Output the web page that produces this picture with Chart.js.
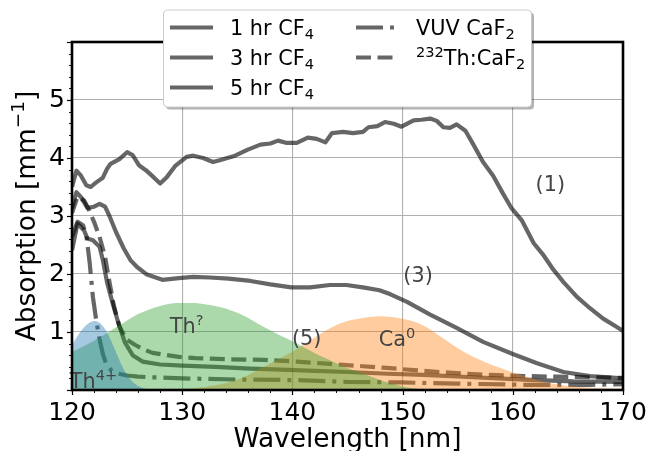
<!DOCTYPE html>
<html>
<head>
<meta charset="utf-8">
<script src="https://cdn.jsdelivr.net/npm/chart.js@4.4.1/dist/chart.umd.min.js"></script>
<style>
  html, body { margin: 0; padding: 0; background: #fff; }
  canvas { display: block; }
</style>
</head>
<body>
<canvas id="absChart" width="664" height="451"></canvas>
<script>
// wavelength [nm] / absorption [mm^-1]
const wl1 = [120.0, 120.4, 120.8, 121.3, 121.7, 122.2, 122.8, 123.2, 123.5, 124.3, 125.0, 125.5, 126.1, 126.7, 127.4, 128.0, 128.6, 129.4, 129.8, 130.4, 131.0, 131.9, 132.8, 133.4, 134.8, 135.9, 137.1, 138.0, 138.7, 139.5, 140.4, 141.4, 142.2, 143.0, 143.6, 144.6, 145.5, 146.4, 146.9, 147.7, 148.4, 149.2, 149.9, 151.0, 151.7, 152.5, 153.1, 153.7, 154.3, 154.9, 155.7, 156.4, 157.3, 158.2, 159.1, 159.9, 160.8, 161.9, 162.8, 163.7, 164.6, 165.8, 167.0, 168.2, 169.4, 170.0];
const abs1 = [3.50, 3.78, 3.70, 3.53, 3.50, 3.58, 3.66, 3.82, 3.90, 3.98, 4.10, 4.05, 3.87, 3.79, 3.67, 3.56, 3.67, 3.87, 3.93, 4.02, 4.04, 4.00, 3.93, 3.96, 4.04, 4.14, 4.23, 4.25, 4.30, 4.26, 4.26, 4.35, 4.33, 4.27, 4.43, 4.45, 4.43, 4.45, 4.53, 4.55, 4.62, 4.59, 4.54, 4.65, 4.66, 4.68, 4.64, 4.53, 4.52, 4.58, 4.47, 4.24, 3.93, 3.70, 3.39, 3.13, 2.93, 2.53, 2.32, 2.07, 1.86, 1.61, 1.41, 1.23, 1.09, 1.02];

const wl3 = [120.0, 120.4, 120.8, 121.4, 122.0, 122.5, 123.0, 123.4, 124.0, 124.7, 125.3, 125.9, 126.8, 128.2, 129.7, 131.0, 132.5, 134.2, 136.2, 138.0, 139.9, 141.6, 143.4, 144.9, 146.4, 147.9, 148.9, 150.4, 152.5, 154.9, 157.3, 160.0, 162.2, 164.6, 167.0, 170.0];
const abs3 = [3.13, 3.41, 3.33, 3.14, 3.16, 3.21, 3.16, 3.00, 2.72, 2.44, 2.24, 2.12, 1.99, 1.90, 1.93, 1.95, 1.94, 1.92, 1.88, 1.82, 1.77, 1.77, 1.81, 1.81, 1.77, 1.72, 1.65, 1.52, 1.30, 1.07, 0.83, 0.62, 0.46, 0.31, 0.24, 0.20];

const wl5 = [120.0, 120.5, 121.1, 121.4, 121.9, 122.5, 122.8, 123.2, 123.7, 124.2, 124.8, 125.5, 126.4, 128.0, 130.0, 133.0, 136.2, 139.0, 142.0, 145.0, 148.6, 151.9, 156.4, 161.0, 165.5, 170.0];
const abs5 = [2.41, 2.87, 2.75, 2.61, 2.58, 2.47, 2.24, 1.84, 1.49, 1.16, 0.82, 0.60, 0.49, 0.44, 0.42, 0.40, 0.37, 0.35, 0.33, 0.31, 0.28, 0.26, 0.22, 0.18, 0.15, 0.14];

const wlVuv = [120.0, 120.5, 121.0, 121.3, 121.6, 121.9, 122.2, 122.5, 122.8, 123.1, 123.6, 124.0, 125.0, 126.0, 127.1, 130.0, 135.2, 140.4, 145.0, 149.8, 154.9, 161.0, 167.0, 170.0];
const absVuv = [2.64, 2.90, 2.84, 2.67, 2.20, 1.60, 1.20, 0.88, 0.62, 0.45, 0.33, 0.29, 0.25, 0.23, 0.22, 0.20, 0.18, 0.17, 0.14, 0.13, 0.11, 0.09, 0.09, 0.10];

const wlTh = [120.0, 120.5, 121.1, 121.5, 122.0, 122.5, 123.0, 123.4, 123.8, 124.3, 124.9, 125.7, 126.5, 127.3, 129.7, 131.2, 134.3, 137.4, 140.4, 143.4, 146.4, 148.6, 151.9, 154.9, 157.9, 161.0, 164.0, 167.0, 170.0];
const absTh = [3.05, 3.33, 3.27, 3.12, 2.90, 2.64, 2.30, 1.86, 1.45, 1.10, 0.88, 0.78, 0.70, 0.64, 0.57, 0.55, 0.53, 0.52, 0.49, 0.45, 0.41, 0.38, 0.33, 0.29, 0.26, 0.24, 0.23, 0.22, 0.21];

// shaded absorption bands
const wlTh4 = [120.0, 120.5, 121.0, 121.5, 122.0, 122.5, 123.0, 123.5, 124.0, 124.5, 125.0, 125.5, 126.0, 126.5, 127.5];
const bandTh4 = [0.77, 0.93, 1.06, 1.15, 1.19, 1.16, 1.05, 0.87, 0.65, 0.43, 0.26, 0.14, 0.07, 0.03, 0.0];

const wlThQ = [120, 121, 122, 123, 124, 125, 126, 127, 128, 129, 130, 131, 132, 133, 134, 135, 136, 137, 138, 139, 140, 141, 142, 143, 144, 145, 146, 147, 148, 149, 150, 151, 152, 153];
const bandThQ = [0.66, 0.75, 0.85, 0.96, 1.08, 1.20, 1.31, 1.39, 1.45, 1.49, 1.50, 1.50, 1.48, 1.45, 1.40, 1.33, 1.24, 1.13, 1.03, 0.93, 0.84, 0.74, 0.64, 0.55, 0.46, 0.38, 0.31, 0.24, 0.17, 0.11, 0.06, 0.03, 0.01, 0.0];

const wlCa = [128, 130, 132, 134, 135, 136, 137, 138, 139, 140, 141, 142, 143, 144, 145, 146, 147, 148, 149, 150, 151, 152, 153, 154, 155, 156, 157, 158, 159, 160, 161, 162, 163, 164, 165, 167, 170];
const bandCa = [0.0, 0.02, 0.05, 0.12, 0.18, 0.26, 0.36, 0.46, 0.56, 0.66, 0.78, 0.90, 1.02, 1.12, 1.19, 1.23, 1.26, 1.27, 1.26, 1.23, 1.18, 1.10, 0.98, 0.85, 0.72, 0.61, 0.52, 0.44, 0.37, 0.30, 0.24, 0.18, 0.13, 0.10, 0.07, 0.04, 0.02];

const xTicks = [120, 130, 140, 150, 160, 170];
const yTicks = [1, 2, 3, 4, 5];

// text labels in the plot: [segments, wavelength, absorption]
const notes = [
    [[['(1)', 0]], 163.4, 3.57],
    [[['(3)', 0]], 151.4, 1.99],
    [[['(5)', 0]], 141.3, 0.90],
    [[['Ca', 0], ['0', 1]], 149.5, 0.89],
    [[['Th', 0], ['?', 1]], 130.4, 1.12],
    [[['Th', 0], ['4+', 1]], 121.95, 0.16]
];

const FONT = '"DejaVu Sans"';
const lineCol = 'rgba(0,0,0,0.6)';
const pts = (xs, ys) => xs.map((x, i) => ({ x: x, y: ys[i] }));

function richText(ctx, segs, x, y, size, align) {
    let total = 0;
    const widths = segs.map(s => {
        ctx.font = (s[1] ? size * 0.7 : size) + 'px ' + FONT;
        const w = ctx.measureText(s[0]).width;
        total += w;
        return w;
    });
    let cx = align === 'center' ? x - total / 2 : x;
    segs.forEach((s, i) => {
        ctx.font = (s[1] ? size * 0.7 : size) + 'px ' + FONT;
        const dy = s[1] === 1 ? -size * 0.38 : s[1] === -1 ? size * 0.2 : 0;
        ctx.fillText(s[0], cx, y + dy);
        cx += widths[i];
    });
}

const decorations = {
    id: 'decorations',
    afterDraw(chart) {
        const ctx = chart.ctx;
        const a = chart.chartArea;
        const xs = chart.scales.x, ys = chart.scales.y;
        ctx.save();

        // notes
        ctx.fillStyle = '#444';
        ctx.textBaseline = 'alphabetic';
        notes.forEach(n => {
            richText(ctx, n[0], xs.getPixelForValue(n[1]), ys.getPixelForValue(n[2]) + 7.6, 20.8, 'center');
        });

        // ticks (major + minor, outward)
        ctx.strokeStyle = '#000';
        for (let v = 120; v <= 170; v += 2) {
            const major = v % 10 === 0;
            const px = Math.round(xs.getPixelForValue(v)) + 0.5;
            ctx.lineWidth = major ? 1.2 : 0.9;
            ctx.beginPath();
            ctx.moveTo(px, a.bottom);
            ctx.lineTo(px, a.bottom + (major ? 5 : 3));
            ctx.stroke();
        }
        for (let k = 0; k <= 30; k++) {
            const v = k * 0.2;
            const major = k % 5 === 0;
            const py = Math.round(ys.getPixelForValue(v)) + 0.5;
            ctx.lineWidth = major ? 1.2 : 0.9;
            ctx.beginPath();
            ctx.moveTo(a.left, py);
            ctx.lineTo(a.left - (major ? 5 : 3), py);
            ctx.stroke();
        }

        // spines
        ctx.lineWidth = 2.6;
        ctx.strokeRect(a.left, a.top, a.right - a.left, a.bottom - a.top);

        // axis titles
        ctx.fillStyle = '#000';
        richText(ctx, [['Wavelength [nm]', 0]], (a.left + a.right) / 2, 447, 26.4, 'center');
        ctx.save();
        ctx.translate(34.5, (a.top + a.bottom) / 2);
        ctx.rotate(-Math.PI / 2);
        richText(ctx, [['Absorption [mm', 0], ['\u22121', 1], [']', 0]], 0, 0, 26.4, 'center');
        ctx.restore();

        // legend
        const lx = 163.5, ly = 10, lw = 368, lh = 97;
        ctx.fillStyle = 'rgba(0,0,0,0.3)';
        ctx.beginPath();
        ctx.roundRect(lx + 2.5, ly + 2.5, lw, lh, 4);
        ctx.fill();
        ctx.fillStyle = '#fff';
        ctx.strokeStyle = '#cccccc';
        ctx.lineWidth = 1;
        ctx.beginPath();
        ctx.roundRect(lx, ly, lw, lh, 4);
        ctx.fill();
        ctx.stroke();

        const entries = [
            [[['1 hr CF', 0], ['4', -1]], [], 170, 27.5],
            [[['3 hr CF', 0], ['4', -1]], [], 170, 57.5],
            [[['5 hr CF', 0], ['4', -1]], [], 170, 87.5],
            [[['VUV CaF', 0], ['2', -1]], [27, 7, 4, 7], 356, 27.5],
            [[['232', 1], ['Th:CaF', 0], ['2', -1]], [15, 6.5], 356, 57.5]
        ];
        entries.forEach(e => {
            ctx.strokeStyle = lineCol;
            ctx.lineWidth = 4.2;
            ctx.lineCap = 'butt';
            ctx.setLineDash(e[1]);
            ctx.beginPath();
            ctx.moveTo(e[2], e[3]);
            ctx.lineTo(e[2] + 43, e[3]);
            ctx.stroke();
            ctx.setLineDash([]);
            ctx.fillStyle = '#000';
            richText(ctx, e[0], e[2] + 60, e[3] + 7.6, 20.8, 'left');
        });
        ctx.restore();
    }
};

const lineSet = (label, xs, ys, dash, order) => ({
    label: label,
    data: pts(xs, ys),
    borderColor: lineCol,
    borderWidth: 4.2,
    borderDash: dash,
    borderCapStyle: 'butt',
    borderJoinStyle: 'round',
    pointRadius: 0,
    fill: false,
    order: order
});

const bandSet = (label, xs, ys, color, order) => ({
    label: label,
    data: pts(xs, ys),
    borderWidth: 0,
    borderColor: 'rgba(0,0,0,0)',
    backgroundColor: color,
    pointRadius: 0,
    fill: 'origin',
    cubicInterpolationMode: 'monotone',
    order: order
});

const ctx = document.getElementById('absChart').getContext('2d');
new Chart(ctx, {
    type: 'line',
    data: {
        datasets: [
            bandSet('Th4+', wlTh4, bandTh4, 'rgba(31,119,180,0.4)', 0),
            bandSet('Th?', wlThQ, bandThQ, 'rgba(44,160,44,0.4)', 1),
            bandSet('Ca0', wlCa, bandCa, 'rgba(255,127,14,0.4)', 2),
            lineSet('1 hr CF4', wl1, abs1, [], 3),
            lineSet('3 hr CF4', wl3, abs3, [], 4),
            lineSet('5 hr CF4', wl5, abs5, [], 5),
            lineSet('VUV CaF2', wlVuv, absVuv, [27, 7, 4, 7], 6),
            lineSet('232Th:CaF2', wlTh, absTh, [15, 6.5], 7)
        ]
    },
    options: {
        responsive: false,
        animation: false,
        devicePixelRatio: 1,
        layout: { padding: { left: 0, right: 41, top: 42, bottom: 0 } },
        plugins: {
            legend: { display: false },
            tooltip: { enabled: false }
        },
        scales: {
            x: {
                type: 'linear',
                min: 120,
                max: 170,
                afterFit: s => { s.height = 61; },
                afterBuildTicks: s => { s.ticks = xTicks.map(v => ({ value: v })); },
                ticks: {
                    font: { family: FONT, size: 25 },
                    color: '#000',
                    padding: 8,
                    maxRotation: 0
                },
                grid: { color: '#b0b0b0', lineWidth: 1.1, drawTicks: false },
                border: { display: false }
            },
            y: {
                min: 0,
                max: 6,
                afterFit: s => { s.width = 72; },
                afterBuildTicks: s => { s.ticks = yTicks.map(v => ({ value: v })); },
                ticks: {
                    font: { family: FONT, size: 25 },
                    color: '#000',
                    padding: 7
                },
                grid: { color: '#b0b0b0', lineWidth: 1.1, drawTicks: false },
                border: { display: false }
            }
        }
    },
    plugins: [decorations]
});
</script>
</body>
</html>
